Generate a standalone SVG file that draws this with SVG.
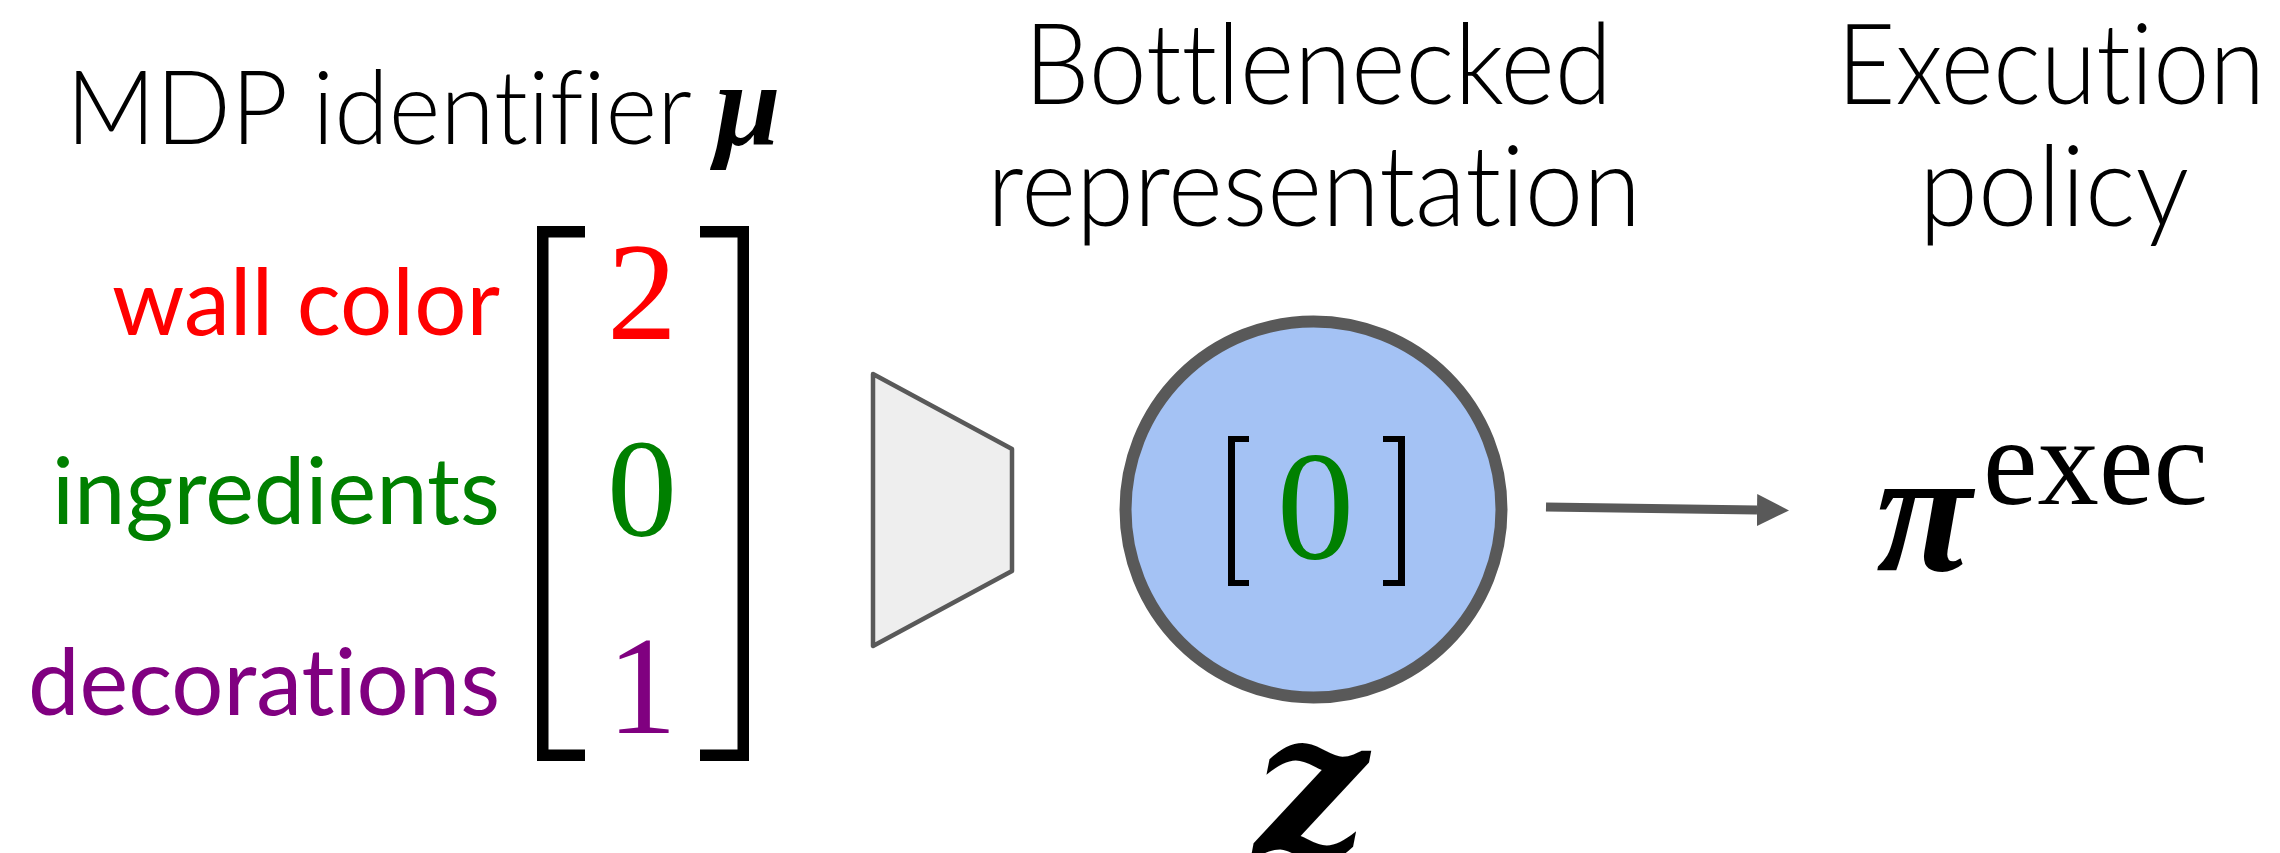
<svg xmlns="http://www.w3.org/2000/svg" width="2280" height="853" viewBox="0 0 2280 853">
<style>
.title{font-family:Lato,"Open Sans","Liberation Sans",sans-serif;font-weight:300;fill:#000;font-variant-ligatures:none}
.label{font-family:Lato,"Open Sans","Liberation Sans",sans-serif;font-weight:400;font-size:94px;font-variant-ligatures:none}
.math{font-family:"Liberation Serif","DejaVu Serif",serif}
.bi{font-weight:bold;font-style:italic}
.delim{fill:#000}
</style>
<defs>
<marker id="arrowhead" viewBox="0 0 32 32" markerWidth="32" markerHeight="32" markerUnits="userSpaceOnUse" refX="0" refY="16" orient="auto">
<path d="M0,0 L32,16 L0,32 Z" fill="#595959"/>
</marker>
</defs>
<rect width="2280" height="853" fill="#fff"/>
<g id="mdp-identifier">
<text class="title" x="66" y="144" font-size="103" textLength="626" lengthAdjust="spacingAndGlyphs">MDP identifier</text>
<text class="math bi" x="715" y="145" font-size="118">μ</text>
<text class="label" x="500" y="335" fill="#ff0000" text-anchor="end" textLength="388" lengthAdjust="spacingAndGlyphs">wall color</text>
<text class="label" x="500" y="524" fill="#008000" text-anchor="end" textLength="448" lengthAdjust="spacingAndGlyphs">ingredients</text>
<text class="label" x="500" y="715" fill="#800080" text-anchor="end" textLength="472" lengthAdjust="spacingAndGlyphs">decorations</text>
<path class="delim" d="M537,226 H585 V237.5 H548.5 V749.5 H585 V761 H537 Z"/>
<path class="delim" d="M749,226 H700 V237.5 H737.5 V749.5 H700 V761 H749 Z"/>
<text class="math" x="642" y="339" font-size="140" fill="#ff0000" text-anchor="middle">2</text>
<text class="math" x="642" y="536" font-size="140" fill="#008000" text-anchor="middle">0</text>
<text class="math" x="642" y="733" font-size="140" fill="#800080" text-anchor="middle">1</text>
</g>
<g id="encoder">
<polygon points="873,374 1012,449 1012,571 873,646" fill="#eeeeee" stroke="#595959" stroke-width="4.5" stroke-linejoin="round"/>
</g>
<g id="bottleneck">
<text class="title" x="1318" y="104" font-size="112" text-anchor="middle" textLength="588" lengthAdjust="spacingAndGlyphs">Bottlenecked</text>
<text class="title" x="1314" y="226" font-size="112" text-anchor="middle" textLength="654" lengthAdjust="spacingAndGlyphs">representation</text>
<circle cx="1313.5" cy="509.5" r="188" fill="#a4c2f4" stroke="#595959" stroke-width="12"/>
<path class="delim" d="M1228,436 H1249 V442 H1235 V580 H1249 V586 H1228 Z"/>
<path class="delim" d="M1405,436 H1383 V442 H1398 V580 H1383 V586 H1405 Z"/>
<text class="math" x="1315.5" y="558" font-size="155" fill="#008000" text-anchor="middle">0</text>
<text x="1311" y="855" font-family="'DejaVu Serif','Liberation Serif',serif" font-weight="bold" font-style="italic" font-size="200" text-anchor="middle">z</text>
</g>
<g id="execution-policy">
<text class="title" x="2051" y="104" font-size="112" text-anchor="middle" textLength="428" lengthAdjust="spacingAndGlyphs">Execution</text>
<text class="title" x="2054" y="226" font-size="112" text-anchor="middle" textLength="270" lengthAdjust="spacingAndGlyphs">policy</text>
<text class="math bi" x="1876" y="570" font-size="175">π</text>
<text class="math" x="1983" y="504" font-size="125" textLength="225" lengthAdjust="spacingAndGlyphs">exec</text>
</g>
<g id="connectors">
<line x1="1546" y1="507" x2="1757" y2="510" stroke="#595959" stroke-width="9" marker-end="url(#arrowhead)"/>
</g>
</svg>
